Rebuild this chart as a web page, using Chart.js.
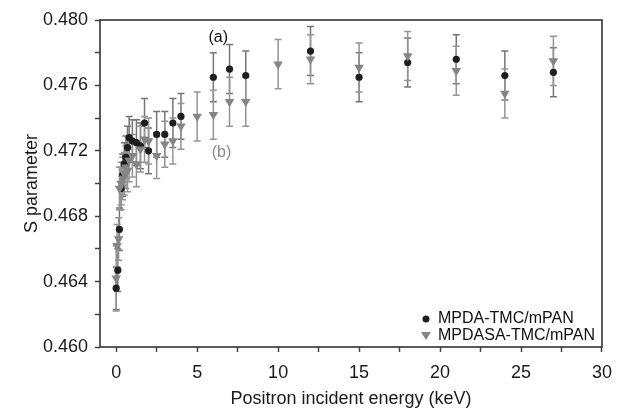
<!DOCTYPE html>
<html>
<head>
<meta charset="utf-8">
<script src="https://cdn.jsdelivr.net/npm/chart.js@4/dist/chart.umd.min.js"></script>
<style>
  html, body { margin: 0; padding: 0; background: #fff; }
  #chart { display: block; }
</style>
</head>
<body>
<canvas id="chart" width="622" height="410"></canvas>
<script>
// MPDA-TMC/mPAN (a)
const energyA = [0, 0.1, 0.2, 0.3, 0.4, 0.5, 0.6, 0.7, 0.8, 1.0, 1.25, 1.5, 1.75, 2, 2.5, 3, 3.5, 4, 6, 7, 8, 12, 15, 18, 21, 24, 27];
const sParamA = [0.4636, 0.4647, 0.4672, 0.4697, 0.4705, 0.4712, 0.4716, 0.4722, 0.4728, 0.4726, 0.4725, 0.4723, 0.4737, 0.4720, 0.4730, 0.4730, 0.4737, 0.4741, 0.4765, 0.4770, 0.4766, 0.4781, 0.4765, 0.4774, 0.4776, 0.4766, 0.4768];
const errA = [0.0013, 0.0013, 0.0013, 0.0013, 0.0013, 0.0013, 0.0013, 0.0013, 0.0013, 0.0013, 0.0014, 0.0014, 0.0015, 0.0014, 0.0014, 0.0014, 0.0015, 0.0014, 0.0015, 0.0015, 0.0015, 0.0015, 0.0015, 0.0015, 0.0015, 0.0015, 0.0015];

// MPDASA-TMC/mPAN (b)
const energyB = [0, 0.05, 0.15, 0.2, 0.3, 0.4, 0.5, 0.6, 0.7, 0.8, 1.0, 1.25, 1.5, 1.75, 2, 2.5, 3, 3.5, 4, 5, 6, 7, 8, 10, 12, 15, 18, 21, 24, 27];
const sParamB = [0.4642, 0.4662, 0.4666, 0.4697, 0.4700, 0.4703, 0.4706, 0.4710, 0.4708, 0.4714, 0.4717, 0.4712, 0.4721, 0.4727, 0.4726, 0.4717, 0.4724, 0.4726, 0.4735, 0.4741, 0.4742, 0.4750, 0.4750, 0.4773, 0.4776, 0.4771, 0.4778, 0.4769, 0.4755, 0.4775];
const errB = [0.0020, 0.0013, 0.0013, 0.0013, 0.0013, 0.0013, 0.0013, 0.0013, 0.0013, 0.0013, 0.0013, 0.0014, 0.0014, 0.0014, 0.0014, 0.0014, 0.0014, 0.0014, 0.0014, 0.0015, 0.0015, 0.0015, 0.0015, 0.0015, 0.0015, 0.0015, 0.0015, 0.0015, 0.0015, 0.0015];

const seriesLabels = ['MPDA-TMC/mPAN', 'MPDASA-TMC/mPAN'];

const xTickValues = [0, 2.5, 5, 7.5, 10, 12.5, 15, 17.5, 20, 22.5, 25, 27.5, 30];
const xTickLabels = ['0', '', '5', '', '10', '', '15', '', '20', '', '25', '', '30'];
const yTickValues = [0.460, 0.462, 0.464, 0.466, 0.468, 0.470, 0.472, 0.474, 0.476, 0.478, 0.480];
const yTickLabels = ['0.460', '', '0.464', '', '0.468', '', '0.472', '', '0.476', '', '0.480'];

const FONT = 'Liberation Sans, Arial, Helvetica, sans-serif';

const toPoints = (xs, ys) => xs.map((x, i) => ({ x, y: ys[i] }));

const errorBars = {
    id: 'errorBars',
    beforeDatasetsDraw(chart) {
        const { ctx, scales: { x, y } } = chart;
        const sets = [
            { xs: energyA, ys: sParamA, es: errA, color: '#767676' },
            { xs: energyB, ys: sParamB, es: errB, color: '#959595' }
        ];
        ctx.save();
        ctx.lineWidth = 1.5;
        sets.forEach(set => {
            ctx.strokeStyle = set.color;
            set.xs.forEach((e, i) => {
                const px = x.getPixelForValue(e);
                const top = y.getPixelForValue(set.ys[i] + set.es[i]);
                const bot = y.getPixelForValue(set.ys[i] - set.es[i]);
                ctx.beginPath();
                ctx.moveTo(px, top); ctx.lineTo(px, bot);
                ctx.moveTo(px - 3.5, top); ctx.lineTo(px + 3.5, top);
                ctx.moveTo(px - 3.5, bot); ctx.lineTo(px + 3.5, bot);
                ctx.stroke();
            });
        });
        ctx.restore();
    }
};

const frameAndNotes = {
    id: 'frameAndNotes',
    afterDraw(chart) {
        const { ctx, chartArea: a, scales: { x, y } } = chart;
        ctx.save();
        ctx.strokeStyle = '#333';
        ctx.lineWidth = 1.6;
        ctx.strokeRect(a.left, a.top, a.right - a.left, a.bottom - a.top);

        // labels (a) and (b)
        ctx.font = '16px ' + FONT;
        ctx.textAlign = 'center';
        ctx.textBaseline = 'middle';
        ctx.fillStyle = '#111';
        ctx.fillText('(a)', x.getPixelForValue(6.3), y.getPixelForValue(0.4789));
        ctx.fillStyle = '#8a8a8a';
        ctx.fillText('(b)', x.getPixelForValue(6.5), y.getPixelForValue(0.47187));

        // legend
        const lx = a.right - 176, ly = a.bottom - 28;
        ctx.fillStyle = '#1e1e1e';
        ctx.beginPath();
        ctx.arc(lx, ly, 3.5, 0, Math.PI * 2);
        ctx.fill();
        ctx.fillStyle = '#858585';
        ctx.beginPath();
        ctx.moveTo(lx - 5, ly + 13);
        ctx.lineTo(lx + 5, ly + 13);
        ctx.lineTo(lx, ly + 21);
        ctx.closePath();
        ctx.fill();
        ctx.fillStyle = '#111';
        ctx.textAlign = 'left';
        ctx.fillText(seriesLabels[0], lx + 12, ly);
        ctx.fillText(seriesLabels[1], lx + 12, ly + 17);
        ctx.restore();
    }
};

new Chart(document.getElementById('chart'), {
    type: 'scatter',
    data: {
        datasets: [
            {
                label: seriesLabels[0],
                data: toPoints(energyA, sParamA),
                order: 1,
                pointStyle: 'circle',
                pointRadius: 3.6,
                backgroundColor: '#1e1e1e',
                borderColor: '#1e1e1e',
                borderWidth: 0
            },
            {
                label: seriesLabels[1],
                data: toPoints(energyB, sParamB),
                order: 0,
                pointStyle: 'triangle',
                pointRotation: 180,
                pointRadius: 5.5,
                backgroundColor: '#858585',
                borderColor: '#858585',
                borderWidth: 0
            }
        ]
    },
    options: {
        responsive: false,
        animation: false,
        devicePixelRatio: 1,
        layout: { padding: { top: 20, right: 17, left: 0, bottom: 0 } },
        plugins: { legend: { display: false }, tooltip: { enabled: false } },
        scales: {
            x: {
                type: 'linear',
                min: -1,
                max: 30,
                afterBuildTicks: s => { s.ticks = xTickValues.map(v => ({ value: v })); },
                afterFit: s => { s.height = 63; },
                ticks: {
                    autoSkip: false,
                    maxRotation: 0,
                    padding: 10,
                    color: '#1a1a1a',
                    font: { family: FONT, size: 18 },
                    callback: (v, i) => xTickLabels[i]
                },
                grid: { drawOnChartArea: false, drawTicks: true, tickLength: 5, tickColor: '#444', tickWidth: 1.5 },
                border: { display: false },
                title: {
                    display: true,
                    text: 'Positron incident energy (keV)',
                    color: '#1a1a1a',
                    font: { family: FONT, size: 18 },
                    padding: { top: 0, bottom: 0 }
                }
            },
            y: {
                type: 'linear',
                min: 0.460,
                max: 0.480,
                afterBuildTicks: s => { s.ticks = yTickValues.map(v => ({ value: v })); },
                afterFit: s => { s.width = 100; },
                ticks: {
                    autoSkip: false,
                    padding: 7,
                    color: '#1a1a1a',
                    font: { family: FONT, size: 18 },
                    callback: (v, i) => yTickLabels[i]
                },
                grid: { drawOnChartArea: false, drawTicks: true, tickLength: 5, tickColor: '#444', tickWidth: 1.5 },
                border: { display: false },
                title: {
                    display: true,
                    text: 'S parameter',
                    color: '#1a1a1a',
                    font: { family: FONT, size: 18 },
                    padding: { top: 21, bottom: 0 }
                }
            }
        }
    },
    plugins: [errorBars, frameAndNotes]
});
</script>
</body>
</html>
